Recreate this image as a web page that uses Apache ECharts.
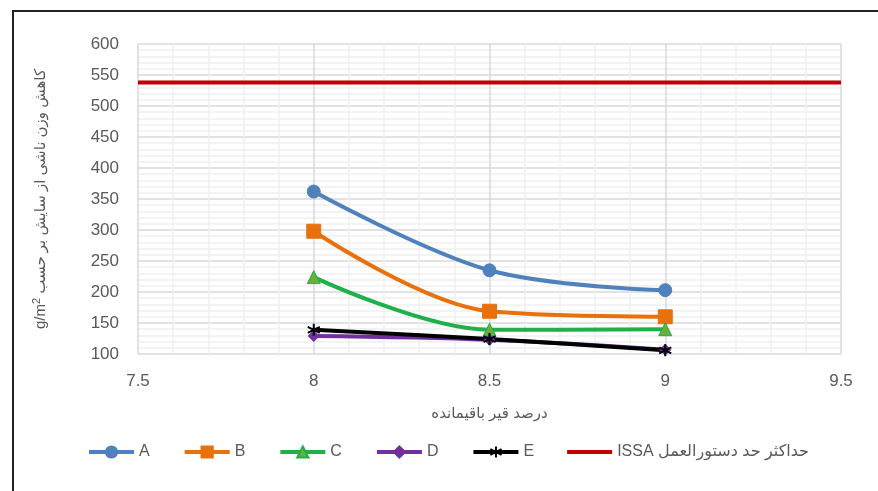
<!DOCTYPE html>
<html><head><meta charset="utf-8">
<script src="https://cdn.jsdelivr.net/npm/echarts@6/dist/echarts.min.js"></script>
<style>html,body{margin:0;padding:0;background:#fff}#c{width:878px;height:491px}</style>
</head><body><div id="c"></div>
<script>
const xValues = [8, 8.5, 9];
const seriesA = [362, 235, 203];
const seriesB = [298, 169, 160];
const seriesC = [224, 139, 140];
const seriesD = [129, 123, 107];
const seriesE = [139, 124, 106];
const issaX = [7.5, 9.5];
const issaY = [538, 538];
const seriesNames = ['A', 'B', 'C', 'D', 'E', 'ISSA حداکثر حد دستورالعمل'];
const xAxisTitle = 'درصد قیر باقیمانده';
const yAxisTitleUnit = 'g/m';
const yAxisTitleText = 'کاهش وزن ناشی از سایش بر حسب';

const FONT = 'Liberation Sans, DejaVu Sans, sans-serif';
const GREY = '#595959';
const pair = (xs, ys) => xs.map((x, i) => [x, ys[i]]);
const asterisk = 'path://M0,-10L0,10M-8.7,-5L8.7,5M-8.7,5L8.7,-5';

function lineSeries(name, data, color, symbol, size, fill, extra) {
  return Object.assign({
    name, type: 'line', data, smooth: 0.35, symbol, symbolSize: size,
    lineStyle: { color, width: 4 },
    itemStyle: { color: fill || color, borderColor: color, borderWidth: 1 },
    emphasis: { disabled: true }
  }, extra || {});
}

const chart = echarts.init(document.getElementById('c'), null, { renderer: 'canvas' });
chart.setOption({
  animation: false,
  backgroundColor: '#fff',
  textStyle: { fontFamily: FONT },
  grid: { left: 138, right: 37, top: 44, bottom: 137 },
  graphic: [{ type: 'rect', shape: { x: 13, y: 11, width: 900, height: 520 },
    style: { fill: 'none', stroke: '#222', lineWidth: 2 }, silent: true }],
  legend: {
    top: 439, left: 82, itemWidth: 45, itemHeight: 14, itemGap: 33,
    lineStyle: { width: 4 },
    textStyle: { fontSize: 16, color: GREY, fontFamily: FONT },
    data: seriesNames.slice(0, 5).concat([{
      name: seriesNames[5], icon: 'path://M0,0H45V4H0Z',
      itemStyle: { color: '#C00000', borderWidth: 0 }
    }])
  },
  xAxis: {
    type: 'value', min: 7.5, max: 9.5, interval: 0.5,
    name: xAxisTitle, nameLocation: 'middle', nameGap: 52,
    nameTextStyle: { fontSize: 15, color: GREY },
    axisLine: { show: false }, axisTick: { show: false },
    axisLabel: { fontSize: 17, color: GREY, margin: 19 },
    splitLine: { show: true, lineStyle: { color: '#d9d9d9', width: 1.5 } },
    minorTick: { show: false, splitNumber: 5 },
    minorSplitLine: { show: true, lineStyle: { color: '#efefef', width: 1.5 } }
  },
  yAxis: {
    type: 'value', min: 100, max: 600, interval: 50,
    name: '{u|' + yAxisTitleUnit + '}{s|2}{u| ' + yAxisTitleText + '}',
    nameLocation: 'middle', nameGap: 88, nameRotate: 90,
    nameTextStyle: { fontSize: 15, color: GREY,
      rich: { u: { fontSize: 15, color: GREY, fontFamily: FONT },
              s: { fontSize: 11, color: GREY, fontFamily: FONT, verticalAlign: 'top', padding: [0, 0, 8, 0] } } },
    axisLine: { show: false }, axisTick: { show: false },
    axisLabel: { fontSize: 17, color: GREY, margin: 19 },
    splitLine: { show: true, lineStyle: { color: '#d9d9d9', width: 1.5 } },
    minorTick: { show: false, splitNumber: 5 },
    minorSplitLine: { show: true, lineStyle: { color: '#efefef', width: 1.5 } }
  },
  series: [
    lineSeries(seriesNames[0], pair(xValues, seriesA), '#4F81BD', 'circle', 13),
    lineSeries(seriesNames[1], pair(xValues, seriesB), '#E8710C', 'rect', 14),
    lineSeries(seriesNames[2], pair(xValues, seriesC), '#1FB04A', 'triangle', 13, '#6AAE3C'),
    lineSeries(seriesNames[3], pair(xValues, seriesD), '#7030A0', 'diamond', 11),
    lineSeries(seriesNames[4], pair(xValues, seriesE), '#000000', asterisk, 12, '#000', {
      itemStyle: { color: '#000', borderColor: '#000', borderWidth: 2 } }),
    { name: seriesNames[5], type: 'line', data: pair(issaX, issaY), symbol: 'none', showSymbol: false,
      lineStyle: { color: '#C00000', width: 4 }, itemStyle: { color: '#C00000' },
      emphasis: { disabled: true }, z: 1 }
  ]
});
</script></body></html>
